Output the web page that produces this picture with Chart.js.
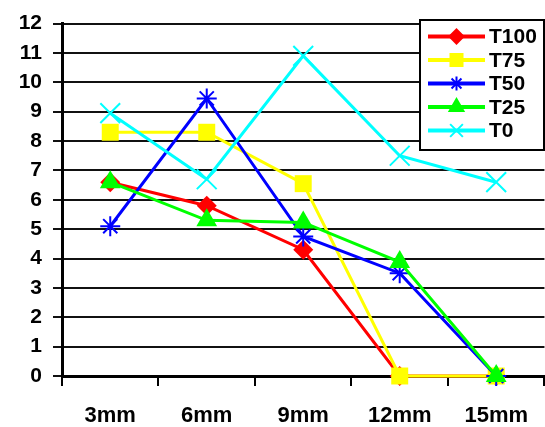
<!DOCTYPE html>
<html>
<head>
<meta charset="utf-8">
<script src="https://cdn.jsdelivr.net/npm/chart.js@4"></script>
<style>
  html, body { margin: 0; padding: 0; background: #fff; }
  #wrap { width: 545px; height: 427px; }
</style>
</head>
<body>
<div id="wrap"><canvas id="chart" width="545" height="427"></canvas></div>
<script>
const categories = ['3mm', '6mm', '9mm', '12mm', '15mm']
const seriesNames = ['T100', 'T75', 'T50', 'T25', 'T0']
const t100 = [6.6, 5.8, 4.3, 0, 0]
const t75 = [8.3, 8.3, 6.55, 0, 0]
const t50 = [5.1, 9.45, 4.75, 3.5, 0]
const t25 = [6.6, 5.3, 5.23, 3.88, 0]
const t0 = [8.95, 6.7, 10.9, 7.5, 6.6]
const yTicks = [0, 1, 2, 3, 4, 5, 6, 7, 8, 9, 10, 11, 12]

const colors = ['#ff0000', '#ffff00', '#0000ff', '#00ff00', '#00ffff']
const styles = ['rectRot', 'rect', 'star', 'triangle', 'crossRot']
const radii = [10, 12, 10, 12, 14]
const legendRadii = [7, 8.5, 7, 8, 9]
const seriesData = [t100, t75, t50, t25, t0]

const font = { family: 'Arial, "Liberation Sans", sans-serif', weight: 'bold' }

// later series on top, like the original
const datasets = seriesNames.map((name, i) => ({
  label: name,
  data: seriesData[i],
  borderColor: colors[i],
  backgroundColor: colors[i],
  pointBackgroundColor: colors[i],
  pointBorderColor: colors[i],
  borderWidth: 3,
  pointStyle: styles[i],
  pointRadius: radii[i],
  pointBorderWidth: (styles[i] == 'star' || styles[i] == 'crossRot') ? 2 : 0,
  tension: 0,
  clip: false,
  order: seriesNames.length - i
}))

// legend box drawn in the top right corner of the plot
const boxLegend = {
  id: 'boxLegend',
  afterDraw(chart) {
    const ctx = chart.ctx
    const left = 420, top = 20, right = 544, bottom = 150
    ctx.save()
    ctx.fillStyle = '#fff'
    ctx.fillRect(left, top, right - left, bottom - top)
    ctx.strokeStyle = '#000'
    ctx.lineWidth = 2
    ctx.strokeRect(left, top, right - left, bottom - top)
    const rowY = [36.5, 60, 83.5, 107, 130.5]
    ctx.font = 'bold 21px Arial, "Liberation Sans", sans-serif'
    ctx.textBaseline = 'middle'
    ctx.textAlign = 'left'
    seriesNames.forEach((name, i) => {
      const y = rowY[i]
      ctx.strokeStyle = colors[i]
      ctx.lineWidth = 4
      ctx.beginPath()
      ctx.moveTo(428, y)
      ctx.lineTo(485, y)
      ctx.stroke()
      ctx.fillStyle = colors[i]
      ctx.strokeStyle = colors[i]
      ctx.lineWidth = 2
      Chart.helpers.drawPoint(ctx, {
        pointStyle: styles[i],
        radius: legendRadii[i],
        borderWidth: 2,
        rotation: 0
      }, 456.5, y)
      ctx.fillStyle = '#000'
      ctx.fillText(name, 489, y + 1)
    })
    ctx.restore()
  }
}

new Chart(document.getElementById('chart'), {
  type: 'line',
  data: { labels: categories, datasets: datasets },
  plugins: [boxLegend],
  options: {
    responsive: false,
    animation: false,
    layout: { autoPadding: false, padding: { top: 20, left: 0, right: 0, bottom: 0 } },
    plugins: {
      legend: { display: false },
      tooltip: { enabled: false }
    },
    scales: {
      x: {
        offset: true,
        afterFit: (scale) => { scale.height = 51 },
        grid: {
          offset: true,
          drawOnChartArea: false,
          drawTicks: true,
          tickLength: 10,
          color: '#000',
          lineWidth: 2
        },
        border: { color: '#000', width: 3 },
        ticks: {
          color: '#000',
          padding: 17,
          maxRotation: 0,
          font: Object.assign({ size: 22 }, font)
        }
      },
      y: {
        min: 0,
        max: 12,
        afterFit: (scale) => { scale.width = 62 },
        afterBuildTicks: (scale) => { scale.ticks = yTicks.map(v => ({ value: v })) },
        grid: {
          color: '#111',
          lineWidth: 2,
          tickLength: 9
        },
        border: { color: '#000', width: 3 },
        ticks: {
          color: '#000',
          padding: 11,
          font: Object.assign({ size: 21 }, font)
        }
      }
    }
  }
})
</script>
</body>
</html>
